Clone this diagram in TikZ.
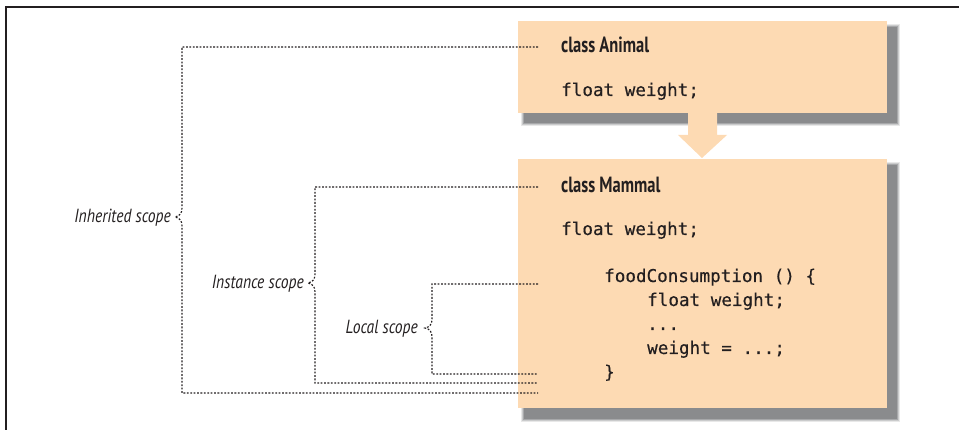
\documentclass[tikz,border=0pt]{standalone}
\usepackage{fontspec}
\setmonofont[FakeBold=0.4]{DejaVu Sans Mono}
\newfontfamily\lblfont[FakeStretch=0.75]{PT Sans}
\newfontfamily\lblitfont[FakeStretch=0.82]{PT Sans}
\definecolor{peach}{HTML}{FDDAB3}
\definecolor{shade}{HTML}{8A8B8D}
\definecolor{ink}{HTML}{231F20}
\tikzset{
  scopeline/.style={draw=ink, line width=1.15pt, dash pattern=on 1.8pt off 1.6pt},
  classbox/.style={fill=peach, draw=none, inner sep=0pt},
  code/.style={anchor=base west, inner sep=0pt, text=ink, font=\ttfamily\fontsize{17.6}{20}\selectfont},
  head/.style={anchor=base west, inner sep=0pt, text=ink, font=\lblfont\bfseries\fontsize{22}{24}\selectfont},
  lbl/.style={anchor=base east, inner sep=0pt, text=ink, font=\lblitfont\itshape\fontsize{19}{21}\selectfont},
}
\begin{document}
\begin{tikzpicture}[x=1pt,y=-1pt]
\useasboundingbox (0,0) rectangle (959,430);
% frame
\draw[ink, line width=1.2pt] (6,430) -- (6,7) -- (959,7);
% shadows
\foreach \o/\c in {0/20,1/45,2/75,3/100}{
  \fill[shade!\c!white] (521+\o,24+\o) rectangle (900-\o,126-\o);
  \fill[shade!\c!white] (521+\o,162+\o) rectangle (900-\o,422-\o);
}
% boxes
\node[classbox, minimum width=369pt, minimum height=92pt, anchor=north west] (animal) at (518,21) {};
\node[classbox, minimum width=369pt, minimum height=249pt, anchor=north west] (mammal) at (518,159) {};
% inheritance arrow
\fill[peach] (688,110) -- (717,110) -- (717,135) -- (727,135) -- (702,158) -- (678,135) -- (688,135) -- cycle;
% texts
\node[head] (ta) at (561,53) {class Animal};
\node[code] (ta1) at (561,96) {float weight;};
\node[head] (tm) at (561,193) {class Mammal};
\node[code] (tm1) at (561,235) {float weight;};
\node[code] (tm2) at (604,282) {foodConsumption () \{};
\node[code] (tm3) at (647,306) {float weight;};
\node[code] (tm4) at (647,330) {...};
\node[code] (tm5) at (647,354) {weight = ...;};
\node[code] (tm6) at (604,378) {\}};
% scope labels
\node[lbl] (linh) at (171,223) {Inherited scope};
\node[lbl] (lins) at (304,289) {Instance scope};
\node[lbl] (lloc) at (418,334) {Local scope};
% end points of scope lines
\coordinate (ia) at (538,47);  \coordinate (ib) at (538,393);
\coordinate (sa) at (538,187); \coordinate (sb) at (538,383);
\coordinate (la) at (538,284); \coordinate (lb) at (538,374);
% inherited scope
\draw[scopeline] (ia) -- (182,47) -- (182,208) .. controls (182,213) and (180,216) .. (175,217) .. controls (180,218) and (182,221) .. (182,226) -- (182,393) -- (ib);
% instance scope
\draw[scopeline] (sa) -- (315,187) -- (315,274) .. controls (315,279) and (313,282) .. (308,283) .. controls (313,284) and (315,287) .. (315,292) -- (315,383) -- (sb);
% local scope
\draw[scopeline] (la) -- (432,284) -- (432,319) .. controls (432,324) and (430,327) .. (425,328) .. controls (430,329) and (432,332) .. (432,337) -- (432,374) -- (lb);
\end{tikzpicture}
\end{document}
